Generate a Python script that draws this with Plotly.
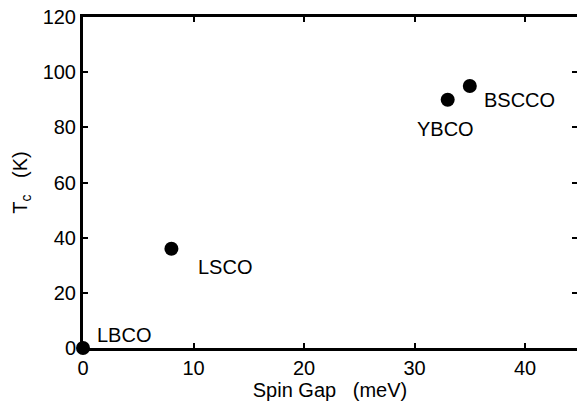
import plotly.graph_objects as go

materials = ["LBCO", "LSCO", "YBCO", "BSCCO"]
spin_gap = [0, 8, 33, 35]
tc = [0, 36, 90, 95]
label_x = [1.1, 10.2, 30.0, 36.1]
label_y = [4.7, 29.4, 79.4, 90.0]
x_ticks = [0, 10, 20, 30, 40]
y_ticks = [0, 20, 40, 60, 80, 100, 120]

FONT = "Liberation Sans, Arial, sans-serif"

fig = go.Figure()
fig.add_trace(go.Scatter(
    x=spin_gap, y=tc, mode="markers",
    marker=dict(size=14, color="black"),
    cliponaxis=False, showlegend=False,
))
# invisible trace for right-side ticks
fig.add_trace(go.Scatter(x=[spin_gap[0]], y=[tc[0]], yaxis="y2", mode="markers",
                         marker=dict(size=1, opacity=0), showlegend=False, hoverinfo="skip"))

for m, lx, ly in zip(materials, label_x, label_y):
    fig.add_annotation(x=lx, y=ly, text=m, showarrow=False, xanchor="left",
                       yanchor="middle", font=dict(size=20, color="black", family=FONT))

fig.update_layout(
    width=577, height=406,
    margin=dict(l=83, r=0, t=17, b=58),
    paper_bgcolor="white", plot_bgcolor="white",
    font=dict(family=FONT, size=20, color="black"),
    xaxis=dict(
        range=[0, 44.7], tickvals=x_ticks, ticks="inside", ticklen=5, tickwidth=2,
        tickcolor="black", showline=True, linewidth=3, linecolor="black", color="black",
        mirror="ticks", showgrid=False, zeroline=False,
        title=dict(text="Spin Gap\u00a0\u00a0\u00a0(meV)", font=dict(size=20, color="black"), standoff=4),
        tickfont=dict(size=20, color="black"),
    ),
    yaxis=dict(
        range=[0, 120], tickvals=y_ticks, ticks="inside", ticklen=5, tickwidth=2,
        tickcolor="black", showline=True, linewidth=3, linecolor="black", color="black",
        showgrid=False, zeroline=False,
        title=dict(text="T<sub>c</sub>\u00a0\u00a0\u00a0(K)", font=dict(size=20, color="black"), standoff=10),
        tickfont=dict(size=20, color="black"),
    ),
    yaxis2=dict(
        overlaying="y", side="right", range=[0, 120], tickvals=y_ticks,
        ticks="inside", ticklen=5, tickwidth=2, tickcolor="black",
        showticklabels=False, showline=False, showgrid=False, zeroline=False,
    ),
)

fig.write_html("out.html")
